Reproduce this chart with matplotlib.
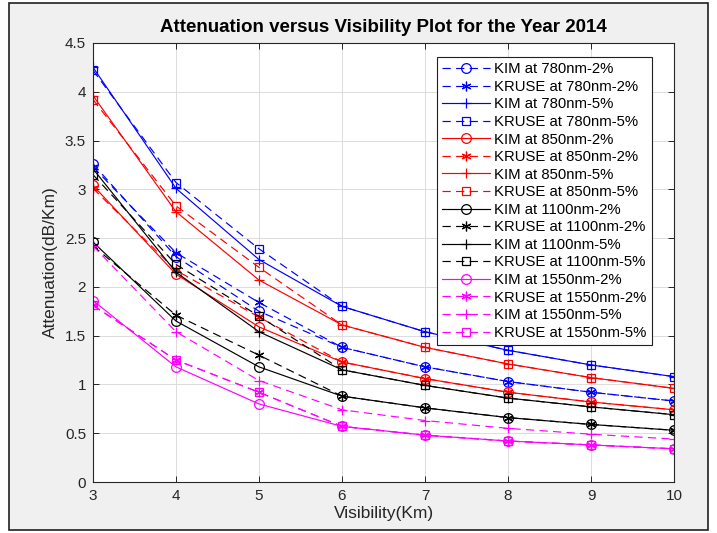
import matplotlib
matplotlib.use('Agg')
import matplotlib.pyplot as plt
from matplotlib.patches import Rectangle
from matplotlib.ticker import FormatStrFormatter, MultipleLocator

plt.rcParams['font.family'] = ['Liberation Sans', 'DejaVu Sans']

# ---- data ----
visibility = [3, 4, 5, 6, 7, 8, 9, 10]

kim_780_2 = [3.26, 2.31, 1.75, 1.38, 1.18, 1.03, 0.92, 0.83]
kruse_780_2 = [3.23, 2.35, 1.84, 1.38, 1.18, 1.03, 0.92, 0.83]
kim_780_5 = [4.25, 3.01, 2.28, 1.80, 1.54, 1.35, 1.20, 1.08]
kruse_780_5 = [4.22, 3.07, 2.39, 1.80, 1.54, 1.35, 1.20, 1.08]

kim_850_2 = [3.04, 2.13, 1.59, 1.23, 1.06, 0.92, 0.82, 0.74]
kruse_850_2 = [3.01, 2.17, 1.69, 1.23, 1.06, 0.92, 0.82, 0.74]
kim_850_5 = [3.96, 2.77, 2.07, 1.61, 1.38, 1.21, 1.07, 0.96]
kruse_850_5 = [3.92, 2.83, 2.20, 1.61, 1.38, 1.21, 1.07, 0.96]

kim_1100_2 = [2.46, 1.65, 1.18, 0.88, 0.76, 0.66, 0.59, 0.53]
kruse_1100_2 = [2.42, 1.71, 1.30, 0.88, 0.76, 0.66, 0.59, 0.53]
kim_1100_5 = [3.21, 2.15, 1.54, 1.15, 0.99, 0.86, 0.77, 0.69]
kruse_1100_5 = [3.15, 2.23, 1.70, 1.15, 0.99, 0.86, 0.77, 0.69]

kim_1550_2 = [1.86, 1.18, 0.80, 0.57, 0.48, 0.42, 0.38, 0.34]
kruse_1550_2 = [1.81, 1.25, 0.92, 0.57, 0.48, 0.42, 0.38, 0.34]
kim_1550_5 = [2.42, 1.54, 1.04, 0.74, 0.63, 0.55, 0.49, 0.44]
kruse_1550_5 = [1.81, 1.25, 0.92, 0.57, 0.48, 0.42, 0.38, 0.34]

labels = ['KIM at 780nm-2%', 'KRUSE at 780nm-2%', 'KIM at 780nm-5%', 'KRUSE at 780nm-5%',
          'KIM at 850nm-2%', 'KRUSE at 850nm-2%', 'KIM at 850nm-5%', 'KRUSE at 850nm-5%',
          'KIM at 1100nm-2%', 'KRUSE at 1100nm-2%', 'KIM at 1100nm-5%', 'KRUSE at 1100nm-5%',
          'KIM at 1550nm-2%', 'KRUSE at 1550nm-2%', 'KIM at 1550nm-5%', 'KRUSE at 1550nm-5%']
series = [kim_780_2, kruse_780_2, kim_780_5, kruse_780_5,
          kim_850_2, kruse_850_2, kim_850_5, kruse_850_5,
          kim_1100_2, kruse_1100_2, kim_1100_5, kruse_1100_5,
          kim_1550_2, kruse_1550_2, kim_1550_5, kruse_1550_5]

# ---- styles ----
DASH = (0, (7, 4.5))
STAR = (6, 2, 0)
styles = [
    ('#0000ff', DASH, 'o'), ('#0000ff', DASH, STAR), ('#0000ff', '-', '+'), ('#0000ff', DASH, 's'),
    ('#ff0000', '-', 'o'), ('#ff0000', DASH, STAR), ('#ff0000', '-', '+'), ('#ff0000', DASH, 's'),
    ('#000000', '-', 'o'), ('#000000', DASH, STAR), ('#000000', '-', '+'), ('#000000', DASH, 's'),
    ('#ff00ff', '-', 'o'), ('#ff00ff', DASH, STAR), ('#ff00ff', DASH, '+'), ('#ff00ff', DASH, 's'),
]
MSIZE = {'o': 7, '+': 7.5, 's': 6}

fig = plt.figure(figsize=(7.17, 5.33), dpi=100, facecolor='white')
# grey MATLAB figure window with a dark border
fig.patches.append(Rectangle((9 / 717, 3 / 533), 699 / 717, 527 / 533,
                             transform=fig.transFigure, facecolor='#f0f0f0',
                             edgecolor='#202020', linewidth=1.2, zorder=-10))

ax = fig.add_axes([93 / 717, 1 - 482 / 533, 581 / 717, 439 / 533])
ax.set_facecolor('white')

for vals, lab, (col, ls, mk) in zip(series, labels, styles):
    ax.plot(visibility, vals, color=col, linestyle=ls, marker=mk,
            markersize=MSIZE.get(mk, 7), markerfacecolor='none',
            markeredgewidth=0.9, linewidth=0.85, label=lab)

ax.set_xlim(3, 10)
ax.set_ylim(0, 4.5)
ax.xaxis.set_major_locator(MultipleLocator(1))
ax.yaxis.set_major_locator(MultipleLocator(0.5))
ax.yaxis.set_major_formatter(FormatStrFormatter('%g'))
ax.grid(True, color='#dcdcdc', linewidth=0.7)
ax.set_axisbelow(True)

for sp in ax.spines.values():
    sp.set_color('#262626')
    sp.set_linewidth(0.8)
ax.tick_params(direction='in', length=4, width=0.7, colors='#262626',
               labelsize=11, top=True, right=True, pad=5)

ax.set_xlabel('Visibility(Km)', fontsize=12.5, color='#262626', labelpad=2)
ax.set_ylabel('Attenuation(dB/Km)', fontsize=12.5, color='#262626', labelpad=5)
ax.set_title('Attenuation versus Visibility Plot for the Year 2014',
             fontsize=13.5, fontweight='bold', color='black', pad=8)

leg = ax.legend(loc='upper right', bbox_to_anchor=(0.962, 0.968),
                fontsize=10.7, numpoints=1, handlelength=3.2, handletextpad=0.3,
                labelspacing=0.24, borderpad=0.35, borderaxespad=0,
                fancybox=False, framealpha=1, edgecolor='#202020')
leg.get_frame().set_linewidth(0.8)

fig.savefig('out.png', dpi=100, facecolor='white')
